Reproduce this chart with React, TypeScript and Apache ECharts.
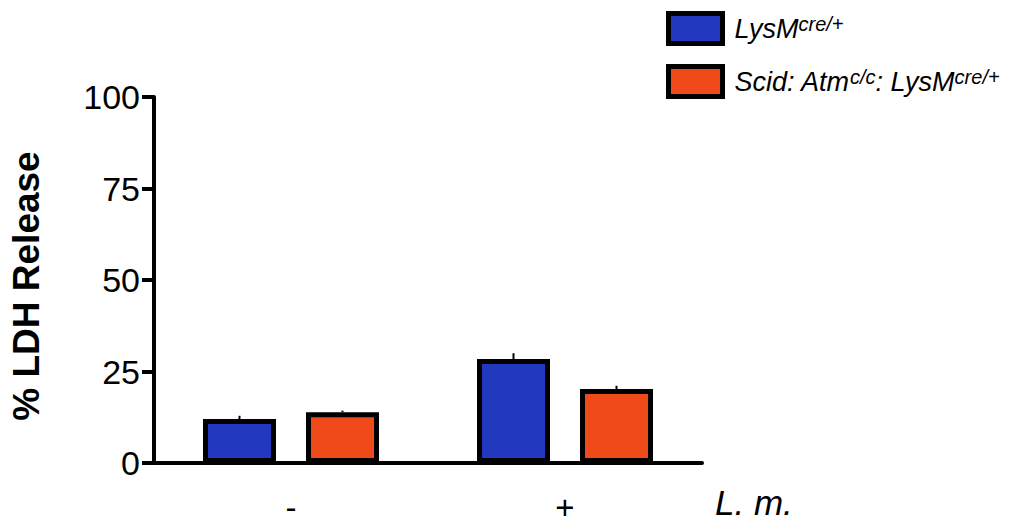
import React, { useEffect, useRef } from "react";
import * as echarts from "echarts";

const categories = ["-", "+"];
const seriesNames = ["LysMcre/+", "Scid: Atmc/c: LysMcre/+"];
const lysmValues = [12.0, 28.4];
const lysmErrTop = [12.9, 30.0];
const scidValues = [13.9, 20.2];
const scidErrTop = [14.3, 21.1];
const yTicks = [0, 25, 50, 75, 100];

const BAR_W = 73;
const BAR_GAP_PX = 30;
const FONT = "'Liberation Sans', Arial, Helvetica, sans-serif";

const legendRich: Record<string, string> = {
  "LysMcre/+": "{i|LysM}{s|cre/+}",
  "Scid: Atmc/c: LysMcre/+": "{i|Scid: Atm}{s|c/c}{i|: LysM}{s|cre/+}",
};

export default function App() {
  const ref = useRef<HTMLDivElement>(null);
  useEffect(() => {
    if (!ref.current) return;
    const chart = echarts.init(ref.current, undefined, { renderer: "svg" });
    const offset = (BAR_W + BAR_GAP_PX) / 2;
    const errSeries = (name: string, vals: number[], tops: number[], sign: number) => ({
      type: "custom",
      name: name + " err",
      z: 3,
      silent: true,
      encode: { x: 0, y: [1, 2] },
      data: vals.map((v, i) => [i, v, tops[i]]),
      renderItem: (params: any, api: any) => {
        const x = api.value(0);
        const p0 = api.coord([x, api.value(1)]);
        const p1 = api.coord([x, api.value(2)]);
        return {
          type: "line",
          shape: { x1: p0[0] + sign * offset, y1: p0[1], x2: p0[0] + sign * offset, y2: p1[1] },
          style: { stroke: "#000", lineWidth: 2 },
        };
      },
    });
    chart.setOption({
      animation: false,
      textStyle: { fontFamily: FONT },
      grid: { left: 153, right: 321, top: 97, bottom: 62 },
      legend: {
        orient: "vertical",
        left: 666,
        top: 11,
        padding: 0,
        icon: "rect",
        itemWidth: 54,
        itemHeight: 30,
        itemGap: 18,
        data: seriesNames,
        itemStyle: { borderColor: "#000", borderWidth: 5 },
        formatter: (n: string) => legendRich[n] || n,
        textStyle: {
          color: "#000",
          padding: [0, 0, 0, 7],
          rich: {
            i: { fontStyle: "italic", fontSize: 27, lineHeight: 30, verticalAlign: "middle", color: "#000", fontFamily: FONT },
            s: { fontStyle: "italic", fontSize: 20, lineHeight: 20, verticalAlign: "top", color: "#000", fontFamily: FONT },
          },
        },
      },
      xAxis: {
        type: "category",
        data: categories,
        name: "L. m.",
        nameLocation: "end",
        nameGap: 13,
        nameTextStyle: {
          fontStyle: "italic",
          fontSize: 35,
          color: "#000",
          verticalAlign: "top",
          align: "left",
          padding: [22, 0, 0, 0],
          fontFamily: FONT,
        },
        axisLine: { lineStyle: { color: "#000", width: 4 } },
        axisTick: { alignWithLabel: true, length: 12, lineStyle: { color: "#000", width: 4 } },
        axisLabel: { color: "#000", fontSize: 33, margin: 28, fontFamily: FONT },
      },
      yAxis: {
        type: "value",
        min: 0,
        max: 100,
        interval: 25,
        name: "% LDH Release",
        nameLocation: "middle",
        nameGap: 109,
        nameTextStyle: {
          fontSize: 37,
          fontWeight: "bold",
          color: "#000",
          fontFamily: FONT,
          padding: [0, 12, 0, 0],
        },
        axisLine: { show: true, lineStyle: { color: "#000", width: 4 } },
        axisTick: { show: true, length: 12, lineStyle: { color: "#000", width: 4 } },
        axisLabel: {
          color: "#000",
          fontSize: 34,
          margin: 14,
          fontFamily: FONT,
          formatter: (v: number) => (yTicks.includes(v) ? String(v) : ""),
        },
        splitLine: { show: false },
      },
      series: [
        {
          type: "bar",
          name: seriesNames[0],
          data: lysmValues,
          barWidth: BAR_W,
          barGap: (BAR_GAP_PX / BAR_W) * 100 + "%",
          itemStyle: { color: "#2138BF", borderColor: "#000", borderWidth: 5 },
          z: 2,
        },
        {
          type: "bar",
          name: seriesNames[1],
          data: scidValues,
          barWidth: BAR_W,
          barGap: (BAR_GAP_PX / BAR_W) * 100 + "%",
          itemStyle: { color: "#F04A1A", borderColor: "#000", borderWidth: 5 },
          z: 2,
        },
        errSeries(seriesNames[0], lysmValues, lysmErrTop, -1),
        errSeries(seriesNames[1], scidValues, scidErrTop, 1),
      ],
    });
    return () => chart.dispose();
  }, []);
  return (
    <div
      ref={ref}
      style={{ position: "fixed", left: 0, top: 0, width: 1023, height: 525, background: "#fff" }}
    />
  );
}
